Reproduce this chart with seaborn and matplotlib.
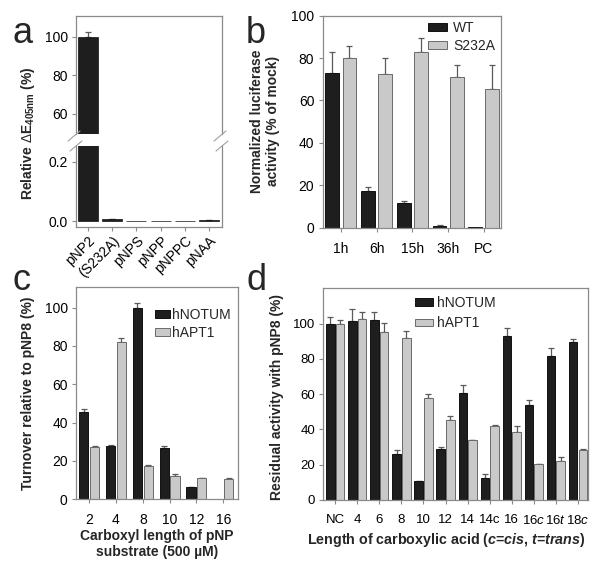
import numpy as np
import pandas as pd
import matplotlib
matplotlib.use("Agg")
import matplotlib.pyplot as plt
import seaborn as sns
from matplotlib.lines import Line2D
from matplotlib.patches import Patch

sns.set_theme(style="white")
plt.rcParams["font.family"] = ["Liberation Sans", "DejaVu Sans"]
plt.rcParams["mathtext.fontset"] = "custom"
plt.rcParams["mathtext.rm"] = "Liberation Sans"
plt.rcParams["mathtext.bf"] = "Liberation Sans:bold"
plt.rcParams["mathtext.it"] = "Liberation Sans:italic"
plt.rcParams["mathtext.bfit"] = "Liberation Sans:italic:bold"

# ---------------- data ----------------
a_labels = ["pNP2", "(S232A)", "pNPS", "pNPP", "pNPPC", "pNAA"]
a_values = [100.0, 0.0065, 0.001, 0.001, 0.001, 0.003]
a_errors = [2.2, 0.001, 0.0, 0.0, 0.0, 0.002]

b_labels = ["1h", "6h", "15h", "36h", "PC"]
b_names = ["WT", "S232A"]
b_wt = [73.1, 17.4, 11.8, 0.9, 0.3]
b_wt_err = [9.8, 1.6, 0.7, 0.2, 0.0]
b_s232a = [80.2, 72.7, 83.1, 71.2, 65.2]
b_s232a_err = [5.6, 7.5, 6.2, 5.7, 11.7]

c_labels = ["2", "4", "8", "10", "12", "16"]
c_names = ["hNOTUM", "hAPT1"]
c_hnotum = [45.7, 28.0, 100.0, 26.6, 6.3, 0.2]
c_hnotum_err = [1.4, 0.3, 2.3, 1.4, 0.2, 0.0]
c_hapt1 = [27.5, 82.3, 17.6, 12.2, 11.0, 10.8]
c_hapt1_err = [0.3, 2.0, 0.3, 0.8, 0.3, 0.2]

d_labels = ["NC", "4", "6", "8", "10", "12", "14", "14c", "16",
            r"16$\mathit{c}$", r"16$\mathit{t}$", r"18$\mathit{c}$"]
d_names = ["hNOTUM", "hAPT1"]
d_hnotum = [100.0, 101.3, 101.9, 26.1, 10.8, 28.8, 60.6, 12.5, 92.8, 54.0, 81.8, 89.4]
d_hnotum_err = [3.8, 7.0, 4.9, 2.3, 0.2, 1.5, 4.6, 2.3, 4.5, 2.8, 4.2, 1.9]
d_hapt1 = [100.0, 102.7, 95.3, 91.9, 57.8, 45.5, 33.9, 41.7, 38.8, 20.3, 22.3, 28.4]
d_hapt1_err = [2.3, 3.9, 5.3, 3.7, 2.4, 2.2, 0.2, 0.9, 2.9, 0.3, 1.9, 0.4]

# ---------------- style ----------------
DARK = "#1e1e1e"
GRAY = "#c9c9c9"
EDGE_D = "#111111"
EDGE_G = "#6a6a6a"
SPINE = "#8a8a8a"
ERRC = "#5a5a5a"
TICK_FS = 10
LAB_FS = 10

W, H = 600, 571
fig = plt.figure(figsize=(W / 100, H / 100), dpi=100)


def px_axes(l, t, r, b):
    return fig.add_axes([l / W, 1 - b / H, (r - l) / W, (b - t) / H])


def fx(x):
    return x / W


def fy(y):
    return 1 - y / H


def style_ax(ax, xpad=7, fs=TICK_FS):
    for s in ax.spines.values():
        s.set_color(SPINE)
        s.set_linewidth(0.9)
    ax.tick_params(axis="both", which="both", direction="out", length=3,
                   width=0.8, color=SPINE, labelsize=fs, labelcolor="black",
                   left=True, bottom=True, top=False, right=False)
    ax.tick_params(axis="y", pad=3)
    ax.tick_params(axis="x", pad=xpad)
    ax.set_xlabel("")
    ax.set_ylabel("")
    ax.grid(False)


def add_errors(ax, containers, errs):
    for cont, err in zip(containers, errs):
        xs, ys, es = [], [], []
        for p, e in zip(cont, err):
            if e > 0:
                xs.append(p.get_x() + p.get_width() / 2)
                ys.append(p.get_y() + p.get_height())
                es.append(e)
        if xs:
            ax.errorbar(xs, ys, yerr=[np.zeros(len(es)), es], fmt="none",
                        ecolor=ERRC, elinewidth=0.9, capsize=2.2,
                        capthick=0.9, zorder=1)


def grouped(ax, labels, names, s1, s2, e1, e2, width, gap):
    n = len(labels)
    df = pd.DataFrame({"cat": labels * 2, "val": s1 + s2,
                       "grp": [names[0]] * n + [names[1]] * n})
    sns.barplot(data=df, x="cat", y="val", hue="grp", order=labels,
                hue_order=names, palette=[DARK, GRAY], saturation=1,
                width=width, gap=gap, errorbar=None, linewidth=0.7,
                legend=False, ax=ax)
    for cont, ec in zip(ax.containers, [EDGE_D, EDGE_G]):
        for p in cont:
            p.set_edgecolor(ec)
            p.set_zorder(2)
    add_errors(ax, ax.containers, [e1, e2])


def legend(ax, names, x, y, hl, hh, tp, ls, fs=TICK_FS):
    handles = [Patch(facecolor=DARK, edgecolor=EDGE_D, linewidth=0.7),
               Patch(facecolor=GRAY, edgecolor=EDGE_G, linewidth=0.7)]
    ax.legend(handles, names, loc="upper left",
              bbox_to_anchor=(fx(x), fy(y)), bbox_transform=fig.transFigure,
              frameon=False, borderpad=0, borderaxespad=0,
              handlelength=hl, handleheight=hh, handletextpad=tp,
              labelspacing=ls, fontsize=fs)


# ---------------- panel a (broken axis) ----------------
axa_top = px_axes(76, 16, 222, 134)
axa_bot = px_axes(76, 146, 222, 227)
for ax in (axa_top, axa_bot):
    sns.barplot(x=a_labels, y=a_values, order=a_labels, color=DARK,
                saturation=1, width=0.82, errorbar=None, linewidth=0.5,
                edgecolor=EDGE_D, ax=ax)
    for p in ax.patches:
        p.set_zorder(2)
    add_errors(ax, [ax.patches], [a_errors])
    style_ax(ax, xpad=2)
    ax.set_xlim(-0.49, 5.53)

axa_top.set_ylim(49.6, 110.7)
axa_top.set_yticks([60, 80, 100])
axa_top.spines["bottom"].set_visible(False)
axa_top.tick_params(axis="x", bottom=False, labelbottom=False)

axa_bot.set_ylim(-0.02, 0.253)
axa_bot.set_yticks([0.0, 0.2])
axa_bot.set_yticklabels(["0.0", "0.2"])
axa_bot.spines["top"].set_visible(False)
axa_bot.set_xticks(range(len(a_labels)))
axa_bot.set_xticklabels(a_labels, rotation=45, ha="right",
                        rotation_mode="anchor")

for (x0, y0, x1, y1) in [(68, 141, 80, 131), (70, 151, 82, 141),
                         (214, 141, 226, 131), (216, 151, 228, 141)]:
    fig.add_artist(Line2D([fx(x0), fx(x1)], [fy(y0), fy(y1)],
                          color="#a0a0a0", lw=0.8, transform=fig.transFigure))

fig.text(fx(28), fy(133),
         r"Relative $\mathrm{\Delta}$E$_{\mathbf{405nm}}$ (%)",
         rotation=90, ha="center", va="center", fontsize=LAB_FS,
         fontweight="bold")

# ---------------- panel b ----------------
axb = px_axes(322.7, 15.7, 501, 227.7)
grouped(axb, b_labels, b_names, b_wt, b_s232a, b_wt_err, b_s232a_err,
        width=0.96, gap=0.19)
style_ax(axb, xpad=7)
axb.set_ylim(0, 100)
axb.set_yticks([0, 20, 40, 60, 80, 100])
axb.set_xlim(-0.51, 4.48)
legend(axb, b_names, 428, 21, hl=1.37, hh=0.55, tp=0.45, ls=0.3)
fig.text(fx(265), fy(121),
         "Normalized luciferase\nactivity (% of mock)", rotation=90,
         ha="center", va="center", fontsize=LAB_FS, fontweight="bold",
         linespacing=1.15)

# ---------------- panel c ----------------
axc = px_axes(76, 287.3, 237.7, 499.3)
grouped(axc, c_labels, c_names, c_hnotum, c_hapt1, c_hnotum_err,
        c_hapt1_err, width=0.8, gap=0.15)
style_ax(axc, xpad=7)
axc.set_ylim(0, 110.6)
axc.set_yticks([0, 20, 40, 60, 80, 100])
axc.set_xlim(-0.49, 5.54)
legend(axc, c_names, 155, 308, hl=1.1, hh=0.45, tp=0.15, ls=0.3)
fig.text(fx(28), fy(393), "Turnover relative to pNP8 (%)", rotation=90,
         ha="center", va="center", fontsize=LAB_FS, fontweight="bold")
fig.text(fx(157), fy(544), "Carboxyl length of pNP\nsubstrate (500 \u00b5M)",
         ha="center", va="center", fontsize=LAB_FS, fontweight="bold",
         linespacing=1.1)

# ---------------- panel d ----------------
axd = px_axes(323.3, 288.3, 588.3, 500)
grouped(axd, d_labels, d_names, d_hnotum, d_hapt1, d_hnotum_err,
        d_hapt1_err, width=0.88, gap=0.125)
style_ax(axd, xpad=7, fs=9.5)
axd.set_ylim(0, 120)
axd.set_yticks([0, 20, 40, 60, 80, 100])
axd.set_xlim(-0.54, 11.47)
legend(axd, d_names, 415, 296, hl=1.3, hh=0.45, tp=0.3, ls=0.45)
fig.text(fx(277), fy(397), "Residual activity with pNP8 (%)", rotation=90,
         ha="center", va="center", fontsize=LAB_FS, fontweight="bold")
fig.text(fx(446), fy(540),
         r"Length of carboxylic acid ($\mathbfit{c}$=$\mathbfit{cis}$, "
         r"$\mathbfit{t}$=$\mathbfit{trans}$)",
         ha="center", va="center", fontsize=10.3, fontweight="bold")

# ---------------- panel letters ----------------
for letter, x, y in [("a", 13, 43), ("b", 246, 43), ("c", 13, 290),
                     ("d", 247, 290)]:
    fig.text(fx(x), fy(y), letter, ha="left", va="baseline", fontsize=26)

fig.savefig("out.png", dpi=100)
